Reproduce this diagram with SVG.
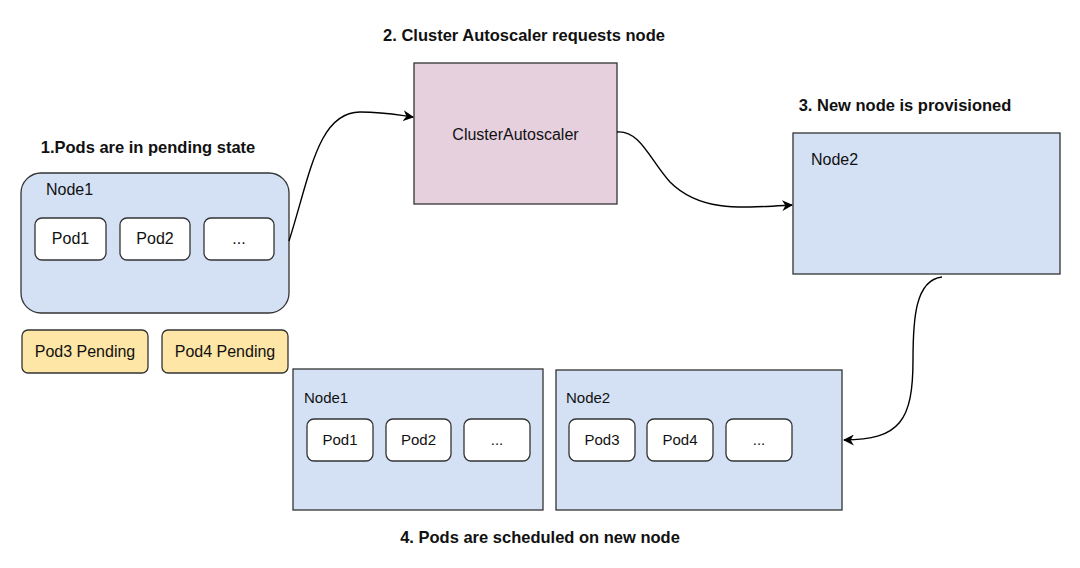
<svg xmlns="http://www.w3.org/2000/svg" width="1080" height="568" viewBox="0 0 1080 568">
<style>
.title{font-family:"Liberation Sans",Arial,sans-serif;font-size:16.5px;font-weight:bold;fill:#111;text-anchor:middle}
.lbl{font-family:"Liberation Sans",Arial,sans-serif;font-size:16px;fill:#111}
.lbl2{font-family:"Liberation Sans",Arial,sans-serif;font-size:15px;fill:#111}
.c{text-anchor:middle}
.node{fill:#d4e1f5;stroke:#333;stroke-width:1.3}
.pod{fill:#fff;stroke:#333;stroke-width:1.3}
.pend{fill:#fde6a6;stroke:#333;stroke-width:1.3}
.ca{fill:#e6d0de;stroke:#333;stroke-width:1.3}
.edge{fill:none;stroke:#000;stroke-width:1.4}
</style>
<defs>
<marker id="arr" viewBox="0 0 10 10" refX="9" refY="5" markerWidth="11" markerHeight="11" markerUnits="userSpaceOnUse" orient="auto">
<path d="M0,0 L10,5 L0,10 L3,5 Z" fill="#000"/>
</marker>
</defs>
<text class="title" x="148" y="153">1.Pods are in pending state</text>
<text class="title" x="524" y="41">2. Cluster Autoscaler requests node</text>
<text class="title" x="905" y="111">3. New node is provisioned</text>
<text class="title" x="540" y="543">4. Pods are scheduled on new node</text>
<g id="node1-initial">
<rect class="node" x="21" y="173" width="268" height="140" rx="20"/>
<text class="lbl" x="46" y="195">Node1</text>
</g>
<g id="pod1-initial"><rect class="pod" x="35" y="218" width="71" height="42" rx="7"/><text class="lbl c" x="70.5" y="244">Pod1</text></g>
<g id="pod2-initial"><rect class="pod" x="120" y="218" width="70" height="42" rx="7"/><text class="lbl c" x="155" y="244">Pod2</text></g>
<g id="more-initial"><rect class="pod" x="204" y="218" width="70" height="42" rx="7"/><text class="lbl c" x="239" y="244">...</text></g>
<g id="pod3-pending"><rect class="pend" x="22" y="330" width="126" height="43" rx="6"/><text class="lbl c" x="85" y="357">Pod3 Pending</text></g>
<g id="pod4-pending"><rect class="pend" x="162" y="330" width="126" height="43" rx="6"/><text class="lbl c" x="225" y="357">Pod4 Pending</text></g>
<g id="cluster-autoscaler">
<rect class="ca" x="414" y="63" width="203" height="141"/>
<text class="lbl c" x="515.5" y="140">ClusterAutoscaler</text>
</g>
<g id="node2-new">
<rect class="node" x="793" y="133" width="267" height="141"/>
<text class="lbl" x="811" y="165">Node2</text>
</g>
<g id="node1-final">
<rect class="node" x="293" y="369" width="250" height="141"/>
<text class="lbl2" x="304" y="403">Node1</text>
</g>
<g id="pod1-final"><rect class="pod" x="307" y="419" width="66" height="42" rx="7"/><text class="lbl2 c" x="340" y="445">Pod1</text></g>
<g id="pod2-final"><rect class="pod" x="386" y="419" width="65" height="42" rx="7"/><text class="lbl2 c" x="418.5" y="445">Pod2</text></g>
<g id="more-final1"><rect class="pod" x="464" y="419" width="66" height="42" rx="7"/><text class="lbl2 c" x="497" y="445">...</text></g>
<g id="node2-final">
<rect class="node" x="556" y="370" width="286" height="140"/>
<text class="lbl2" x="566" y="403">Node2</text>
</g>
<g id="pod3-final"><rect class="pod" x="569" y="419" width="66" height="42" rx="7"/><text class="lbl2 c" x="602" y="445">Pod3</text></g>
<g id="pod4-final"><rect class="pod" x="647" y="419" width="66" height="42" rx="7"/><text class="lbl2 c" x="680" y="445">Pod4</text></g>
<g id="more-final2"><rect class="pod" x="726" y="419" width="66" height="42" rx="7"/><text class="lbl2 c" x="759" y="445">...</text></g>
<g id="connectors">
<path class="edge" d="M289,241 C310,175 318,112 360,112 C385,112 398,115 413,117" marker-end="url(#arr)"/>
<path class="edge" d="M617,132 C640,130 650,160 670,182 C700,212 740,208 792,205" marker-end="url(#arr)"/>
<path class="edge" d="M942,277 C915,280 913,320 913,360 C913,420 900,440 844,440" marker-end="url(#arr)"/>
</g>
</svg>
